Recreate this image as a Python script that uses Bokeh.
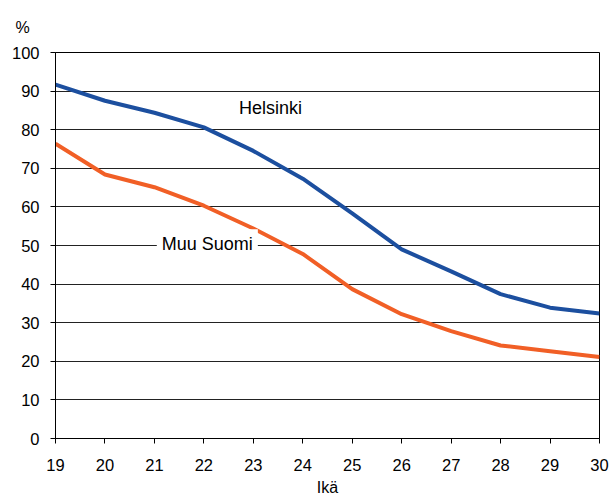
from bokeh.plotting import figure
from bokeh.models import Range1d, Label, FixedTicker
from bokeh.embed import file_html
from bokeh.resources import INLINE

ages = [19, 20, 21, 22, 23, 24, 25, 26, 27, 28, 29, 30]
helsinki = [91.7, 87.5, 84.4, 80.6, 74.5, 67.3, 58.3, 49.0, 43.3, 37.4, 33.9, 32.4]
muu_suomi = [76.4, 68.4, 65.1, 60.3, 54.4, 47.8, 38.7, 32.2, 27.8, 24.1, 22.6, 21.1]
y_ticks = [0, 10, 20, 30, 40, 50, 60, 70, 80, 90, 100]

FONT = "Liberation Sans"

p = figure(width=611, height=498, output_backend="svg", toolbar_location=None,
           x_range=Range1d(19, 30), y_range=Range1d(0, 100),
           min_border_left=55, min_border_right=12, min_border_top=52, min_border_bottom=59)
p.background_fill_color = "white"
p.border_fill_color = "white"
p.outline_line_color = "black"
p.outline_line_width = 1

p.title.text = "%"
p.title.text_font = FONT
p.title.text_font_size = "16px"
p.title.text_font_style = "normal"
p.title.text_color = "black"
p.title.align = "left"
p.title.vertical_align = "top"
p.title.offset = -40
p.title.standoff = 30

p.xgrid.grid_line_color = None
p.ygrid.grid_line_color = "#222222"
p.ygrid.grid_line_width = 1
p.ygrid.ticker = FixedTicker(ticks=y_ticks)

p.xaxis.ticker = FixedTicker(ticks=ages)
p.yaxis.ticker = FixedTicker(ticks=y_ticks)
for ax in (p.xaxis, p.yaxis):
    ax.axis_line_color = "black"
    ax.axis_line_width = 1
    ax.major_tick_line_color = "black"
    ax.major_tick_out = 5
    ax.major_tick_in = 0
    ax.minor_tick_line_color = None
    ax.major_label_text_font = FONT
    ax.major_label_text_font_size = "16.5px"
    ax.major_label_text_color = "black"
p.xaxis.major_label_standoff = 15
p.yaxis.major_label_standoff = 11
p.xaxis.axis_label = "Ikä"
p.xaxis.axis_label_text_font = FONT
p.xaxis.axis_label_text_font_size = "16px"
p.xaxis.axis_label_text_font_style = "normal"
p.xaxis.axis_label_text_color = "black"
p.xaxis.axis_label_standoff = 5

p.line(ages, helsinki, line_color="#1c4f9f", line_width=4)
p.line(ages, muu_suomi, line_color="#f15f26", line_width=4)

p.add_layout(Label(x=22.71, y=85.7, text="Helsinki", text_font=FONT, text_font_size="18px",
                   text_align="left", text_baseline="middle", text_color="black"))
p.add_layout(Label(x=22.07, y=50.3, text="Muu Suomi", text_font=FONT, text_font_size="18px",
                   text_align="center", text_baseline="middle", text_color="black",
                   background_fill_color="white", padding=5))

open("out.html", "w").write(file_html(p, INLINE))
